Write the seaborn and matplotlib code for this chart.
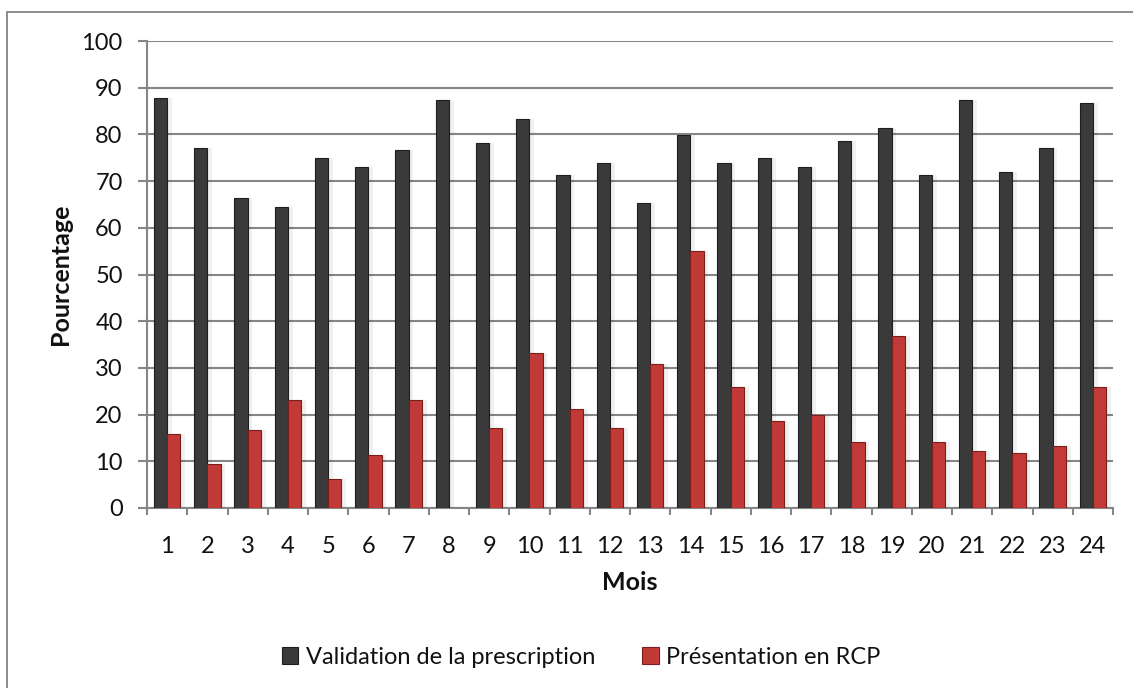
import matplotlib
matplotlib.use("Agg")
import matplotlib.pyplot as plt
import matplotlib.patches as mpatches
import numpy as np
import pandas as pd
import seaborn as sns

months = [str(i) for i in range(1, 25)]
validation = [87.8, 77.1, 66.4, 64.4, 74.9, 73.0, 76.7, 87.4, 78.2, 83.2, 71.3, 73.9,
              65.3, 79.9, 73.9, 74.9, 73.1, 78.6, 81.4, 71.3, 87.4, 71.9, 77.1, 86.8]
rcp = [15.9, 9.4, 16.8, 23.2, 6.2, 11.4, 23.2, 0.0, 17.2, 33.1, 21.3, 17.2,
       30.9, 55.0, 26.0, 18.7, 20.0, 14.2, 36.9, 14.2, 12.2, 11.8, 13.3, 26.0]
series_names = ["Validation de la prescription", "Présentation en RCP"]
yticks = [0, 10, 20, 30, 40, 50, 60, 70, 80, 90, 100]

df = pd.DataFrame({
    "Mois": months * 2,
    "Pourcentage": validation + rcp,
    "Série": [series_names[0]] * 24 + [series_names[1]] * 24,
})

sns.set_theme(style="white")
plt.rcParams["font.family"] = ["Lato", "DejaVu Sans"]

W, H = 1133, 688
fig = plt.figure(figsize=(W / 100, H / 100), dpi=100)
fig.patch.set_facecolor("white")

# outer frame (left + top visible)
fig.patches.append(mpatches.Rectangle((7 / W, -0.05), 1.2, 1 - 12 / H + 0.05,
                                      transform=fig.transFigure, fill=False,
                                      edgecolor="#8c8c8c", linewidth=1.4, zorder=0))

ax = fig.add_axes([147 / W, (H - 508) / H, (1113 - 147) / W, (508 - 41) / H])

colors = {series_names[0]: "#3a3a3a", series_names[1]: "#c23a37"}
edges = {series_names[0]: "#1e1e1e", series_names[1]: "#7a1e1c"}
sns.barplot(data=df, x="Mois", y="Pourcentage", hue="Série", palette=colors,
            order=months, hue_order=series_names, width=0.66, ax=ax,
            legend=False, saturation=1, zorder=3)

for cont, name in zip(ax.containers, series_names):
    for bar in cont:
        bar.set_edgecolor(edges[name])
        bar.set_linewidth(0.8)
        # soft shadow to the right
        x, w, h = bar.get_x(), bar.get_width(), bar.get_height()
        if h > 0:
            ax.add_patch(mpatches.Rectangle((x + w, 0), w * 0.35, h, facecolor="#000000",
                                            alpha=0.06, linewidth=0, zorder=2))

ax.set_ylim(0, 100)
ax.set_xlim(-0.5, 23.5)
ax.set_yticks(yticks)
ax.set_yticklabels([str(v) for v in yticks])
ax.yaxis.grid(True, color="#868686", linewidth=1.5, zorder=0)
ax.set_axisbelow(True)

for s in ["top", "right"]:
    ax.spines[s].set_visible(False)
for s in ["left", "bottom"]:
    ax.spines[s].set_color("#868686")
    ax.spines[s].set_linewidth(1.5)

ax.tick_params(axis="y", which="major", length=6.5, width=1.5, color="#868686",
               pad=11, labelsize=17, labelcolor="#111111", left=True)
ax.tick_params(axis="x", which="major", length=0, pad=20, labelsize=17,
               labelcolor="#111111", bottom=True)
ax.set_xticks(np.arange(-0.5, 24, 1), minor=True)
ax.tick_params(axis="x", which="minor", length=5, width=1.5, color="#868686", bottom=True)

ax.set_xlabel("Mois", fontsize=18, fontweight="bold", color="#111111")
ax.set_ylabel("Pourcentage", fontsize=18, fontweight="bold", color="#111111")
ax.xaxis.set_label_coords(0.5, (508 - 583) / 467)
ax.xaxis.label.set_va("center")
ax.yaxis.set_label_coords((60 - 147) / 966, 0.5)
ax.yaxis.label.set_va("center")

handles = [mpatches.Patch(facecolor=colors[n], edgecolor=edges[n], linewidth=0.8)
           for n in series_names]
fig.legend(handles, series_names, loc="center", bbox_to_anchor=(581 / W, (H - 657) / H),
           ncol=2, frameon=False, fontsize=17, handlelength=0.7, handleheight=0.7,
           handletextpad=0.3, columnspacing=2.0, labelcolor="#111111")

fig.savefig("out.png", dpi=100, facecolor="white")
